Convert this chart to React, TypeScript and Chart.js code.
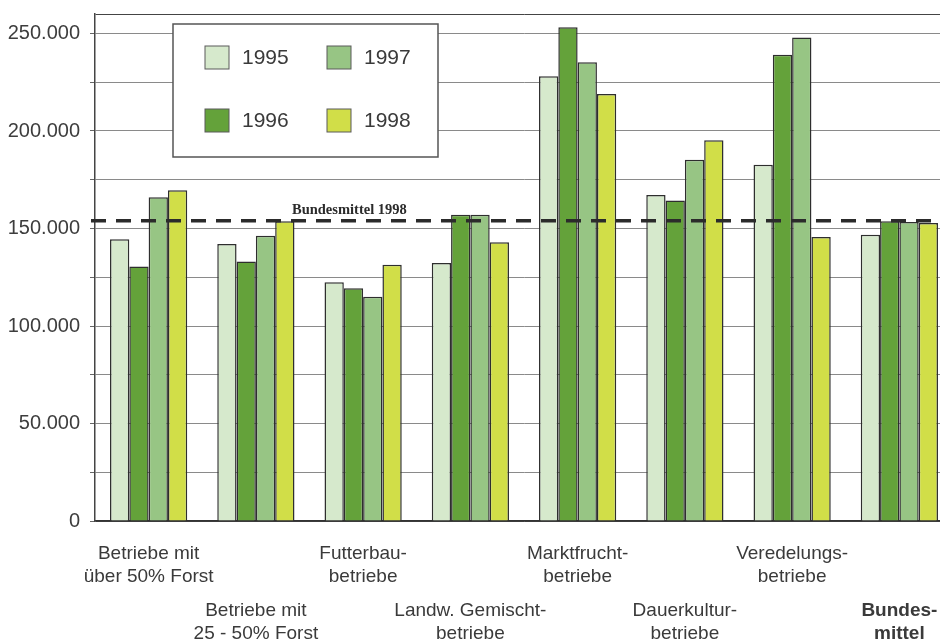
import React, { useEffect, useRef } from "react";
import { Chart, registerables } from "chart.js";

Chart.register(...registerables);

const CATEGORIES: string[][] = [
  ["Betriebe mit", "über 50% Forst"],
  ["Betriebe mit", "25 - 50% Forst"],
  ["Futterbau-", "betriebe"],
  ["Landw. Gemischt-", "betriebe"],
  ["Marktfrucht-", "betriebe"],
  ["Dauerkultur-", "betriebe"],
  ["Veredelungs-", "betriebe"],
  ["Bundes-", "mittel"],
];

const SERIES_LABELS = ["1995", "1996", "1997", "1998"];
const V1995 = [144500, 142000, 122500, 132300, 228100, 167200, 182700, 146800];
const V1996 = [130500, 133100, 119400, 157100, 253200, 164300, 239100, 153700];
const V1997 = [166000, 146300, 115000, 157100, 235300, 185300, 247900, 153300];
const V1998 = [169600, 153700, 131400, 142900, 219000, 195200, 145600, 152800];

const BUNDESMITTEL_1998 = 154000;
const BUNDESMITTEL_LABEL = "Bundesmittel 1998";

const Y_GRID_VALUES = [0, 25000, 50000, 75000, 100000, 125000, 150000, 175000, 200000, 225000, 250000, 260000];
const Y_LABEL_STEP = 50000;
const Y_MAX = 260000;

const COLORS = ["#d6e9cc", "#64a23a", "#97c584", "#d1de48"];
const FONT = "'Liberation Sans', Arial, sans-serif";

function fmt(v: number): string {
  return String(v).replace(/\B(?=(\d{3})+(?!\d))/g, ".");
}

function staggered(lines: string[], i: number): string[] {
  return i % 2 === 0
    ? [lines[0], "", lines[1]]
    : ["", "", "", "", "", lines[0], "", lines[1]];
}

const overlayPlugin = {
  id: "overlay",
  afterDraw(chart: any) {
    const { ctx, chartArea, scales } = chart;
    const y = scales.y.getPixelForValue(BUNDESMITTEL_1998);
    ctx.save();
    // dashed reference line
    ctx.beginPath();
    ctx.setLineDash([15, 10]);
    ctx.lineWidth = 3.5;
    ctx.strokeStyle = "#2b2b2b";
    ctx.moveTo(chartArea.left - 4, y);
    ctx.lineTo(chartArea.right, y);
    ctx.stroke();
    ctx.setLineDash([]);
    ctx.fillStyle = "#2b2b2b";
    ctx.font = "bold 14.5px 'Liberation Serif', 'Times New Roman', serif";
    ctx.textAlign = "left";
    ctx.textBaseline = "alphabetic";
    ctx.fillText(BUNDESMITTEL_LABEL, chartArea.left + 197, y - 7);

    // legend box
    const lx = chartArea.left + 78;
    const ly = chartArea.top + 10;
    ctx.fillStyle = "#ffffff";
    ctx.fillRect(lx, ly, 265, 133);
    ctx.lineWidth = 1.5;
    ctx.strokeStyle = "#555555";
    ctx.strokeRect(lx, ly, 265, 133);
    const ds = chart.data.datasets;
    ds.forEach((d: any, i: number) => {
      const col = Math.floor(i / 2);
      const row = i % 2;
      const sx = lx + 32 + col * 122;
      const sy = ly + 22 + row * 63;
      ctx.fillStyle = d.backgroundColor;
      ctx.fillRect(sx, sy, 24, 23);
      ctx.lineWidth = 1;
      ctx.strokeStyle = "#5a5a5a";
      ctx.strokeRect(sx, sy, 24, 23);
      ctx.fillStyle = "#3a3a3a";
      ctx.font = `21px ${FONT}`;
      ctx.textBaseline = "middle";
      ctx.fillText(d.label, sx + 37, sy + 12);
    });
    ctx.restore();
  },
};

export default function App() {
  const ref = useRef<HTMLCanvasElement | null>(null);

  useEffect(() => {
    if (!ref.current) return;
    const series = [V1995, V1996, V1997, V1998];
    const chart = new Chart(ref.current, {
      type: "bar",
      data: {
        labels: CATEGORIES.map((c, i) => staggered(c, i)),
        datasets: series.map((data, i) => ({
          label: SERIES_LABELS[i],
          data,
          backgroundColor: COLORS[i],
          borderColor: "#2e2e2e",
          borderWidth: 1.5,
          barPercentage: 1,
          categoryPercentage: 0.72,
        })),
      },
      options: {
        responsive: false,
        animation: false,
        layout: { padding: { top: 14, left: 0, right: 0, bottom: 0 } },
        plugins: { legend: { display: false }, tooltip: { enabled: false } },
        scales: {
          x: {
            afterFit: (scale: any) => {
              scale.height = 119;
              scale.paddingLeft = 0;
              scale.paddingRight = 0;
            },
            grid: { display: false, drawTicks: false },
            border: { display: true, color: "#333333", width: 1.5 },
            ticks: {
              autoSkip: false,
              maxRotation: 0,
              minRotation: 0,
              padding: 27,
              color: "#3a3a3a",
              font: (ctx: any) => ({
                family: FONT,
                size: 19,
                weight: ctx.index === CATEGORIES.length - 1 ? "bold" : "normal",
                lineHeight: "11.5px",
              }),
            },
          },
          y: {
            min: 0,
            max: Y_MAX,
            z: 1,
            afterBuildTicks: (scale: any) => {
              scale.ticks = Y_GRID_VALUES.map((v) => ({ value: v }));
            },
            afterFit: (scale: any) => {
              scale.width = 95;
              scale.paddingTop = 0;
              scale.paddingBottom = 0;
            },
            grid: {
              color: (ctx: any) =>
                ctx.tick && (ctx.tick.value === Y_MAX || ctx.tick.value === 0) ? "#444444" : "#8a8a8a",
              tickColor: (ctx: any) =>
                ctx.tick && ctx.tick.value === Y_MAX ? "rgba(0,0,0,0)" : "#666666",
              tickLength: 5,
              lineWidth: 1,
            },
            border: { display: true, color: "#444444", width: 1.5 },
            ticks: {
              padding: 10,
              color: "#3d3d3d",
              font: { family: FONT, size: 20 },
              callback: (v: any) => (Number(v) % Y_LABEL_STEP === 0 && Number(v) <= 250000 ? fmt(Number(v)) : ""),
            },
          },
        },
      },
      plugins: [overlayPlugin],
    });
    return () => chart.destroy();
  }, []);

  return (
    <div style={{ position: "fixed", left: 0, top: 0, width: 953, height: 640, overflow: "hidden", background: "#fff" }}>
      <canvas ref={ref} width={953} height={640} style={{ display: "block" }} />
    </div>
  );
}
